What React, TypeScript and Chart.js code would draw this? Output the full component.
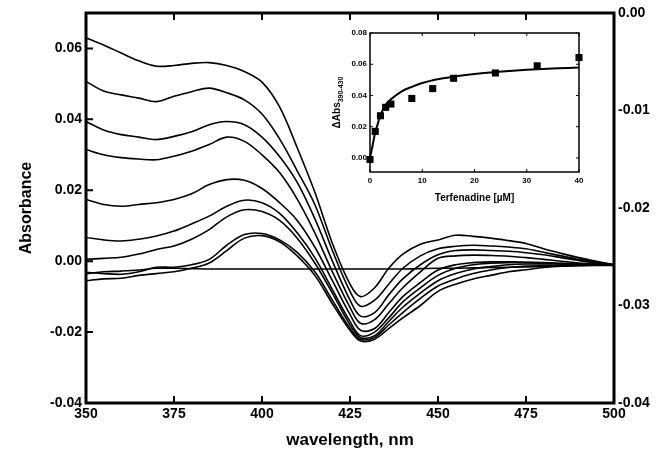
import React, { useEffect, useRef } from 'react';
import { Chart, registerables } from 'chart.js';
Chart.register(...registerables);

const FONT = "'Liberation Sans', Arial, Helvetica, sans-serif";

// ---- main spectra ----
const wavelengths = [350, 355, 360, 365, 370, 375, 380, 385, 390, 395, 400, 405, 410, 415, 420, 425, 428, 432, 436, 440, 445, 450, 455, 460, 465, 470, 475, 480, 485, 490, 495, 500];
const spec1 = [0.063, 0.061, 0.0587, 0.0565, 0.055, 0.0552, 0.0558, 0.056, 0.0552, 0.0535, 0.0505, 0.0435, 0.032, 0.0195, 0.005, -0.0065, -0.010, -0.0075, -0.002, 0.002, 0.0048, 0.006, 0.0073, 0.007, 0.0065, 0.0058, 0.005, 0.0035, 0.0022, 0.001, 0.0, -0.001];
const spec2 = [0.0507, 0.048, 0.0469, 0.046, 0.045, 0.0465, 0.0478, 0.0488, 0.0475, 0.0455, 0.0415, 0.0345, 0.0255, 0.016, 0.003, -0.0085, -0.0127, -0.011, -0.0065, -0.002, 0.0015, 0.0035, 0.0042, 0.0045, 0.0043, 0.004, 0.0035, 0.0025, 0.0015, 0.0005, -0.0003, -0.001];
const spec3 = [0.0394, 0.037, 0.0357, 0.035, 0.0343, 0.0352, 0.0365, 0.0385, 0.0394, 0.0385, 0.035, 0.0295, 0.0222, 0.012, 0.0, -0.011, -0.0155, -0.0145, -0.0095, -0.005, -0.001, 0.0018, 0.003, 0.0032, 0.003, 0.0028, 0.0024, 0.0018, 0.001, 0.0002, -0.0005, -0.001];
const spec4 = [0.0315, 0.030, 0.0292, 0.0288, 0.0286, 0.0296, 0.031, 0.0329, 0.035, 0.0338, 0.030, 0.025, 0.0175, 0.008, -0.003, -0.013, -0.0175, -0.0165, -0.012, -0.0075, -0.003, 0.0008, 0.0015, 0.0017, 0.0016, 0.0014, 0.001, 0.0005, 0.0, -0.0005, -0.0008, -0.001];
const spec5 = [0.0174, 0.016, 0.0155, 0.016, 0.0165, 0.0174, 0.019, 0.0216, 0.023, 0.0228, 0.0205, 0.0165, 0.0115, 0.004, -0.0055, -0.015, -0.0195, -0.019, -0.0145, -0.010, -0.006, -0.0025, -0.001, -0.0004, -0.0002, -0.0002, -0.0003, -0.0004, -0.0006, -0.0008, -0.0009, -0.001];
const spec6 = [0.0067, 0.006, 0.0057, 0.0062, 0.0071, 0.0085, 0.0105, 0.0127, 0.0155, 0.0172, 0.0165, 0.0135, 0.008, 0.001, -0.008, -0.017, -0.021, -0.020, -0.016, -0.0115, -0.0075, -0.004, -0.002, -0.001, -0.0006, -0.0004, -0.0004, -0.0005, -0.0007, -0.0008, -0.0009, -0.001];
const spec7 = [0.0005, 0.0008, 0.0011, 0.002, 0.0033, 0.0043, 0.0062, 0.0089, 0.0125, 0.0145, 0.014, 0.0115, 0.0065, -0.0005, -0.009, -0.018, -0.0215, -0.021, -0.017, -0.013, -0.009, -0.0055, -0.0035, -0.0022, -0.0015, -0.001, -0.0008, -0.0008, -0.0008, -0.0009, -0.001, -0.001];
const spec8 = [-0.0031, -0.0035, -0.0037, -0.003, -0.0017, -0.0017, -0.001, 0.0005, 0.0045, 0.0075, 0.0078, 0.006, 0.0025, -0.003, -0.011, -0.019, -0.022, -0.0215, -0.018, -0.0145, -0.0105, -0.007, -0.005, -0.0035, -0.0025, -0.0018, -0.0014, -0.0012, -0.0011, -0.001, -0.001, -0.001];
const spec9 = [-0.0055, -0.005, -0.0048, -0.004, -0.0035, -0.003, -0.002, -0.0005, 0.003, 0.0065, 0.0072, 0.0055, 0.0015, -0.004, -0.012, -0.0195, -0.0225, -0.022, -0.019, -0.016, -0.0125, -0.0085, -0.0065, -0.005, -0.004, -0.003, -0.0024, -0.0018, -0.0014, -0.0012, -0.001, -0.001];
const specBaseline = [-0.0035, -0.003, -0.0028, -0.0025, -0.002, -0.002, -0.0021, -0.0022, -0.0022, -0.0022, -0.0022, -0.0022, -0.0022, -0.0022, -0.0022, -0.0022, -0.0022, -0.0022, -0.0022, -0.0022, -0.0021, -0.002, -0.002, -0.0019, -0.0018, -0.0017, -0.0016, -0.0015, -0.0014, -0.0013, -0.0012, -0.0012];
const spectra = [spec1, spec2, spec3, spec4, spec5, spec6, spec7, spec8, spec9, specBaseline];

const xTicks = [350, 375, 400, 425, 450, 475, 500];
const yLeftTicks = [-0.04, -0.02, 0, 0.02, 0.04, 0.06];
const yRightTicks = [-0.04, -0.03, -0.02, -0.01, 0];

// ---- inset titration ----
const terfConc = [0, 1, 2, 3, 4, 8, 12, 16, 24, 32, 40];
const deltaAbs = [-0.001, 0.017, 0.027, 0.0324, 0.0345, 0.0381, 0.0444, 0.051, 0.0544, 0.059, 0.0643];
const fitConc = [0, 0.25, 0.5, 1, 1.5, 2, 3, 4, 6, 8, 10, 12, 14, 16, 20, 24, 28, 32, 36, 40];
const fitAbs = [0.0, 0.004, 0.008, 0.0165, 0.022, 0.0275, 0.034, 0.0375, 0.0425, 0.0455, 0.048, 0.0497, 0.051, 0.052, 0.0538, 0.055, 0.056, 0.0568, 0.0574, 0.0579];
const insetXTicks = [0, 10, 20, 30, 40];
const insetYTicks = [0, 0.02, 0.04, 0.06, 0.08];

const mainFrame = {
  id: 'mainFrame',
  afterDraw(chart: any) {
    const { ctx, chartArea: a, scales } = chart;
    ctx.save();
    ctx.strokeStyle = '#000';
    ctx.lineWidth = 2;
    const len = 7;
    ctx.beginPath();
    scales.x.ticks.forEach((t: any) => {
      if (t.value <= 350 || t.value >= 500) return;
      const px = scales.x.getPixelForValue(t.value);
      ctx.moveTo(px, a.bottom); ctx.lineTo(px, a.bottom - len);
      ctx.moveTo(px, a.top); ctx.lineTo(px, a.top + len);
    });
    scales.y.ticks.forEach((t: any) => {
      const py = scales.y.getPixelForValue(t.value);
      ctx.moveTo(a.left, py); ctx.lineTo(a.left + len, py);
    });
    ctx.stroke();
    ctx.lineWidth = 3;
    ctx.strokeRect(a.left, a.top, a.right - a.left, a.bottom - a.top);
    ctx.fillStyle = '#000';
    ctx.textAlign = 'center';
    ctx.textBaseline = 'middle';
    ctx.font = `bold 17px ${FONT}`;
    ctx.fillText('wavelength, nm', (a.left + a.right) / 2, 440);
    ctx.save();
    ctx.translate(27, (a.top + a.bottom) / 2);
    ctx.rotate(-Math.PI / 2);
    ctx.font = `bold 16px ${FONT}`;
    ctx.fillText('Absorbance', 0, 0);
    ctx.restore();
    ctx.restore();
  },
};

const insetFrame = {
  id: 'insetFrame',
  afterDraw(chart: any) {
    const { ctx, chartArea: a, scales } = chart;
    ctx.save();
    ctx.strokeStyle = '#000';
    ctx.lineWidth = 1;
    const len = 3;
    ctx.beginPath();
    scales.x.ticks.forEach((t: any) => {
      const px = scales.x.getPixelForValue(t.value);
      ctx.moveTo(px, a.bottom); ctx.lineTo(px, a.bottom - len);
      ctx.moveTo(px, a.top); ctx.lineTo(px, a.top + len);
    });
    scales.y.ticks.forEach((t: any) => {
      const py = scales.y.getPixelForValue(t.value);
      ctx.moveTo(a.left, py); ctx.lineTo(a.left + len, py);
      ctx.moveTo(a.right, py); ctx.lineTo(a.right - len, py);
    });
    ctx.stroke();
    ctx.lineWidth = 1.5;
    ctx.strokeRect(a.left, a.top, a.right - a.left, a.bottom - a.top);
    ctx.fillStyle = '#000';
    ctx.textAlign = 'center';
    ctx.textBaseline = 'middle';
    ctx.font = `bold 10px ${FONT}`;
    ctx.fillText('Terfenadine [\u00b5M]', (a.left + a.right) / 2, 173);
    // y title with subscript
    ctx.save();
    ctx.translate(12, (a.top + a.bottom) / 2);
    ctx.rotate(-Math.PI / 2);
    ctx.textAlign = 'left';
    ctx.textBaseline = 'alphabetic';
    ctx.font = `bold 10px ${FONT}`;
    const main = '\u0394Abs';
    const sub = '390-430';
    const w1 = ctx.measureText(main).width;
    ctx.font = `bold 7px ${FONT}`;
    const w2 = ctx.measureText(sub).width;
    const start = -(w1 + w2) / 2;
    ctx.font = `bold 10px ${FONT}`;
    ctx.fillText(main, start, 3);
    ctx.font = `bold 7px ${FONT}`;
    ctx.fillText(sub, start + w1, 6);
    ctx.restore();
    ctx.restore();
  },
};

export default function App() {
  const mainRef = useRef<HTMLCanvasElement>(null);
  const insetRef = useRef<HTMLCanvasElement>(null);

  useEffect(() => {
    const datasets = spectra.map((s) => ({
      data: wavelengths.map((w, i) => ({ x: w, y: s[i] })),
      borderColor: '#000',
      borderWidth: 1.6,
      pointRadius: 0,
      tension: 0.35,
      fill: false,
      yAxisID: 'y',
    }));
    const main = new Chart(mainRef.current!, {
      type: 'line',
      data: { datasets },
      options: {
        animation: false,
        responsive: false,
        layout: { padding: { top: 13, left: 0, right: 0, bottom: 0 } },
        plugins: { legend: { display: false }, tooltip: { enabled: false } },
        scales: {
          x: {
            type: 'linear', min: 350, max: 500,
            grid: { display: false, drawTicks: false },
            border: { display: false },
            afterBuildTicks: (s: any) => { s.ticks = xTicks.map((v) => ({ value: v })); },
            afterFit: (s: any) => { s.height = 57; },
            ticks: { color: '#000', padding: 3, font: { family: FONT, size: 14, weight: 'bold' }, callback: (v: any) => String(v), maxRotation: 0 },
          },
          y: {
            type: 'linear', position: 'left', min: -0.04, max: 0.07,
            grid: { display: false, drawTicks: false },
            border: { display: false },
            afterBuildTicks: (s: any) => { s.ticks = yLeftTicks.map((v) => ({ value: v })); },
            afterFit: (s: any) => { s.width = 86; },
            ticks: { color: '#000', padding: 4, font: { family: FONT, size: 14, weight: 'bold' }, callback: (v: any) => Number(v).toFixed(2) },
          },
          y2: {
            type: 'linear', position: 'right', min: -0.04, max: 0,
            grid: { display: false, drawTicks: false },
            border: { display: false },
            afterBuildTicks: (s: any) => { s.ticks = yRightTicks.map((v) => ({ value: v })); },
            afterFit: (s: any) => { s.width = 53; },
            ticks: { color: '#000', padding: 4, font: { family: FONT, size: 14, weight: 'bold' }, callback: (v: any) => Number(v).toFixed(2) },
          },
        },
      },
      plugins: [mainFrame],
    } as any);

    const inset = new Chart(insetRef.current!, {
      type: 'scatter',
      data: {
        datasets: [
          {
            type: 'line',
            data: fitConc.map((c, i) => ({ x: c, y: fitAbs[i] })),
            borderColor: '#000', borderWidth: 2, pointRadius: 0, tension: 0.4, fill: false,
          },
          {
            type: 'scatter',
            data: terfConc.map((c, i) => ({ x: c, y: deltaAbs[i] })),
            pointStyle: 'rect', pointRadius: 5, backgroundColor: '#000', borderColor: '#000', borderWidth: 0,
          },
        ],
      },
      options: {
        animation: false,
        responsive: false,
        clip: false,
        layout: { padding: { top: 8, right: 11, left: 0, bottom: 0 } },
        plugins: { legend: { display: false }, tooltip: { enabled: false } },
        scales: {
          x: {
            type: 'linear', min: 0, max: 40,
            grid: { display: false, drawTicks: false },
            border: { display: false },
            afterBuildTicks: (s: any) => { s.ticks = insetXTicks.map((v) => ({ value: v })); },
            afterFit: (s: any) => { s.height = 38; },
            ticks: { color: '#000', padding: 4, font: { family: FONT, size: 8, weight: 'bold' }, callback: (v: any) => String(v), maxRotation: 0 },
          },
          y: {
            type: 'linear', min: -0.009, max: 0.08,
            grid: { display: false, drawTicks: false },
            border: { display: false },
            afterBuildTicks: (s: any) => { s.ticks = insetYTicks.map((v) => ({ value: v })); },
            afterFit: (s: any) => { s.width = 45; },
            ticks: { color: '#000', padding: 3, font: { family: FONT, size: 8, weight: 'bold' }, callback: (v: any) => Number(v).toFixed(2) },
          },
        },
      },
      plugins: [insetFrame],
    } as any);

    return () => { main.destroy(); inset.destroy(); };
  }, []);

  return (
    <div style={{ position: 'fixed', left: 0, top: 0, width: 667, height: 460, background: '#fff' }}>
      <canvas ref={mainRef} width={667} height={460} style={{ position: 'absolute', left: 0, top: 0, width: 667, height: 460 }} />
      <canvas ref={insetRef} width={265} height={185} style={{ position: 'absolute', left: 325, top: 25, width: 265, height: 185 }} />
    </div>
  );
}
